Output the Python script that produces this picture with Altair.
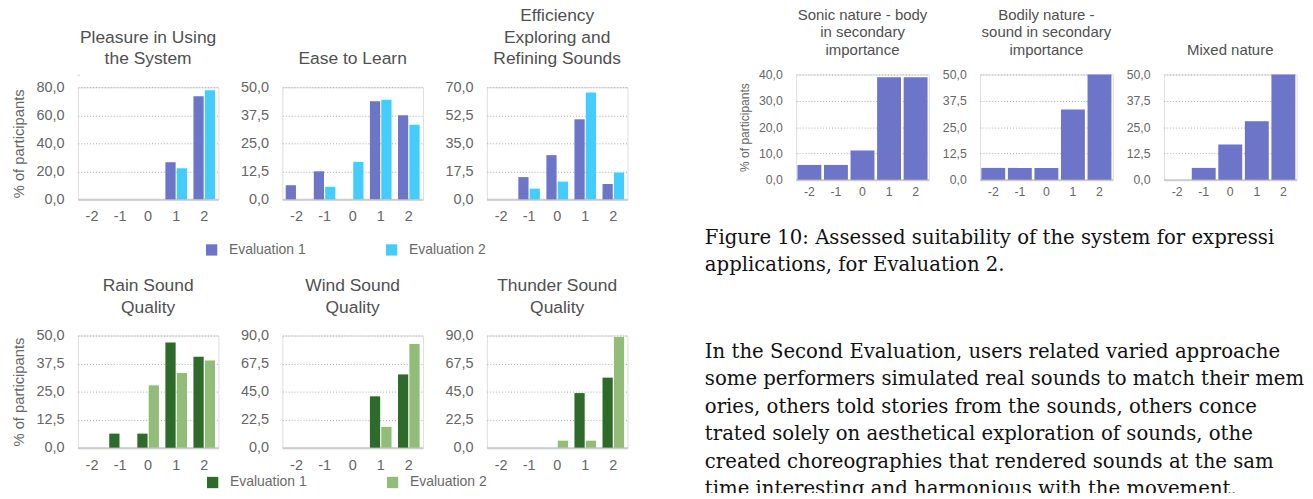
import altair as alt
import pandas as pd

scores = ["-2", "-1", "0", "1", "2"]
series_names = ["Evaluation 1", "Evaluation 2"]

# Left figure: Evaluation 1 vs Evaluation 2, % of participants
pleasure_e1 = [0, 0, 0, 26.5, 73.5]
pleasure_e2 = [0, 0, 0, 22.2, 77.8]
ease_e1 = [6.3, 12.5, 0, 43.8, 37.5]
ease_e2 = [0, 5.6, 16.7, 44.4, 33.3]
eff_e1 = [0, 13.9, 27.6, 50.0, 9.6]
eff_e2 = [0, 6.7, 11.1, 66.7, 16.7]
rain_e1 = [0, 6.25, 6.25, 46.9, 40.6]
rain_e2 = [0, 0, 27.8, 33.3, 38.9]
wind_e1 = [0, 0, 0, 41.2, 58.8]
wind_e2 = [0, 0, 0, 16.7, 83.3]
thunder_e1 = [0, 0, 0, 43.8, 56.2]
thunder_e2 = [0, 0, 5.6, 5.6, 88.9]

# Figure 10 (right): Evaluation 2 only
sonic = [5.6, 5.6, 11.1, 38.9, 38.9]
bodily = [5.6, 5.6, 5.6, 33.3, 50.0]
mixed = [0, 5.6, 16.7, 27.8, 50.0]

ticks_80 = [0, 20, 40, 60, 80]
ticks_50 = [0, 12.5, 25, 37.5, 50]
ticks_70 = [0, 17.5, 35, 52.5, 70]
ticks_90 = [0, 22.5, 45, 67.5, 90]
ticks_40 = [0, 10, 20, 30, 40]

t_pleasure = ["Pleasure in Using", "the System"]
t_ease = ["Ease to Learn"]
t_eff = ["Efficiency", "Exploring and", "Refining Sounds"]
t_rain = ["Rain Sound", "Quality"]
t_wind = ["Wind Sound", "Quality"]
t_thunder = ["Thunder Sound", "Quality"]
t_sonic = ["Sonic nature - body", "in secondary", "importance"]
t_bodily = ["Bodily nature -", "sound in secondary", "importance"]
t_mixed = ["Mixed nature"]
y_title = "% of participants"

caption_lines = [
    "Figure 10: Assessed suitability of the system for expressi",
    "applications, for Evaluation 2.",
]
paragraph_lines = [
    "\u00a0\u00a0\u00a0In the Second Evaluation, users related varied approache",
    "some performers simulated real sounds to match their mem",
    "ories, others told stories from the sounds, others conce",
    "trated solely on aesthetical exploration of sounds, othe",
    "created choreographies that rendered sounds at the sam",
    "time interesting and harmonious with the movement.",
]

blue_cyan = ["#6c75c8", "#44cdfc"]
greens = ["#2e6a2a", "#92bd78"]
single_blue = "#6c75c8"

SANS = "Liberation Sans"
LABEL_EXPR = "replace(format(datum.value, '.1f'), '.', ',')"


def grouped(title_lines, e1, e2, ticks, colors, ytitle=None, legend_pos=None):
    df = pd.DataFrame({
        "score": scores * 2,
        "series": [series_names[0]] * 5 + [series_names[1]] * 5,
        "pct": e1 + e2,
    })
    cscale = alt.Scale(domain=series_names, range=colors)
    if legend_pos is not None:
        leg = alt.Legend(title=None, orient="none", legendX=legend_pos[0], legendY=legend_pos[1],
                         direction="horizontal", symbolType="square", symbolSize=132,
                         symbolStrokeWidth=0, labelFont=SANS, labelFontSize=14.2,
                         labelColor="#6a6a6a", labelOffset=10.5, columnPadding=80, padding=0)
        color = alt.Color("series:N", scale=cscale, legend=leg)
    else:
        color = alt.Color("series:N", scale=cscale, legend=None)
    return alt.Chart(df).mark_bar().encode(
        x=alt.X("score:O", sort=scores, title=None,
                scale=alt.Scale(paddingInner=0.23, paddingOuter=0.12),
                axis=alt.Axis(labelFontSize=14.7, labelPadding=10)),
        xOffset=alt.XOffset("series:N", sort=series_names, scale=alt.Scale(paddingInner=0.1)),
        y=alt.Y("pct:Q", title=ytitle,
                scale=alt.Scale(domain=[0, ticks[-1]], nice=False),
                axis=alt.Axis(values=ticks, labelExpr=LABEL_EXPR, labelFontSize=14.7,
                              titleFontSize=15, labelPadding=14, titlePadding=10)),
        color=color,
    ).properties(
        width=143, height=114,
        title=alt.TitleParams(text=title_lines, font=SANS, fontSize=17.7, fontWeight="normal",
                              color="#505050", lineHeight=22, offset=11.5, frame="group",
                              anchor="middle"),
    )


def single(title_lines, vals, ticks, ytitle=None):
    df = pd.DataFrame({"score": scores, "pct": vals})
    return alt.Chart(df).mark_bar(color=single_blue).encode(
        x=alt.X("score:O", sort=scores, title=None,
                scale=alt.Scale(paddingInner=0.1, paddingOuter=0.05),
                axis=alt.Axis(labelFontSize=12.5, labelPadding=6)),
        y=alt.Y("pct:Q", title=ytitle,
                scale=alt.Scale(domain=[0, ticks[-1]], nice=False),
                axis=alt.Axis(values=ticks, labelExpr=LABEL_EXPR, labelFontSize=12.5,
                              titleFontSize=12.2, labelPadding=14, titlePadding=7)),
    ).properties(
        width=135, height=107,
        title=alt.TitleParams(text=title_lines, font=SANS, fontSize=15.2, fontWeight="normal",
                              color="#505050", lineHeight=17.7, offset=11, frame="group",
                              anchor="middle"),
    )


p1 = grouped(t_pleasure, pleasure_e1, pleasure_e2, ticks_80, blue_cyan, ytitle=y_title)
p2 = grouped(t_ease, ease_e1, ease_e2, ticks_50, blue_cyan, legend_pos=(-79, 158))
p3 = grouped(t_eff, eff_e1, eff_e2, ticks_70, blue_cyan)
p4 = grouped(t_rain, rain_e1, rain_e2, ticks_50, greens, ytitle=y_title)
p5 = grouped(t_wind, wind_e1, wind_e2, ticks_90, greens, legend_pos=(-78, 142))
p6 = grouped(t_thunder, thunder_e1, thunder_e2, ticks_90, greens)

row1 = alt.hconcat(p1, p2, p3, spacing=65, bounds="flush").resolve_scale(
    color="independent").resolve_legend(color="independent")
row2 = alt.hconcat(p4, p5, p6, spacing=65, bounds="flush").resolve_scale(
    color="independent").resolve_legend(color="independent")
rows = alt.vconcat(row1, row2, spacing=252.5, bounds="flush").resolve_scale(color="independent")

# invisible 1px spacer that lowers the left figure relative to the right one
spacer = alt.Chart(pd.DataFrame({"v": [0]})).mark_point(opacity=0).encode(
    x=alt.X("v:Q", axis=None), y=alt.Y("v:Q", axis=None)
).properties(width=1, height=1)
left = alt.vconcat(spacer, rows, spacing=12, bounds="flush").resolve_scale(color="independent")

pa = single(t_sonic, sonic, ticks_40, ytitle=y_title)
pb = single(t_bodily, bodily, ticks_50)
pc = single(t_mixed, mixed, ticks_50)

right = alt.hconcat(
    pa, pb, pc, spacing=52, bounds="flush",
    title=alt.TitleParams(
        text=caption_lines, subtitle=paragraph_lines, orient="bottom", anchor="start",
        dx=-34, offset=30, font="DejaVu Serif", fontSize=20, fontWeight="normal",
        color="#111111", lineHeight=27.5, subtitleFont="DejaVu Serif", subtitleFontSize=20,
        subtitleColor="#111111", subtitleLineHeight=28, subtitlePadding=68.5),
)

chart = alt.hconcat(left, right, spacing=77.5, bounds="full").resolve_scale(
    color="independent"
).properties(
    padding={"left": 2, "top": -5.5, "right": 0, "bottom": -11}
).configure_view(stroke=None).configure(background="white").configure_axis(
    labelFont=SANS, titleFont=SANS, labelColor="#666666", titleColor="#666666",
    titleFontWeight="normal"
).configure_axisX(
    domainColor="#cccccc", domainWidth=2, ticks=False, grid=False, labelAngle=0
).configure_axisY(
    domain=False, ticks=False, grid=True, gridColor="#a8a8a8", gridDash=[1, 2], gridWidth=1
)

chart.save("out.html", embed_options={"renderer": "svg", "actions": False})
